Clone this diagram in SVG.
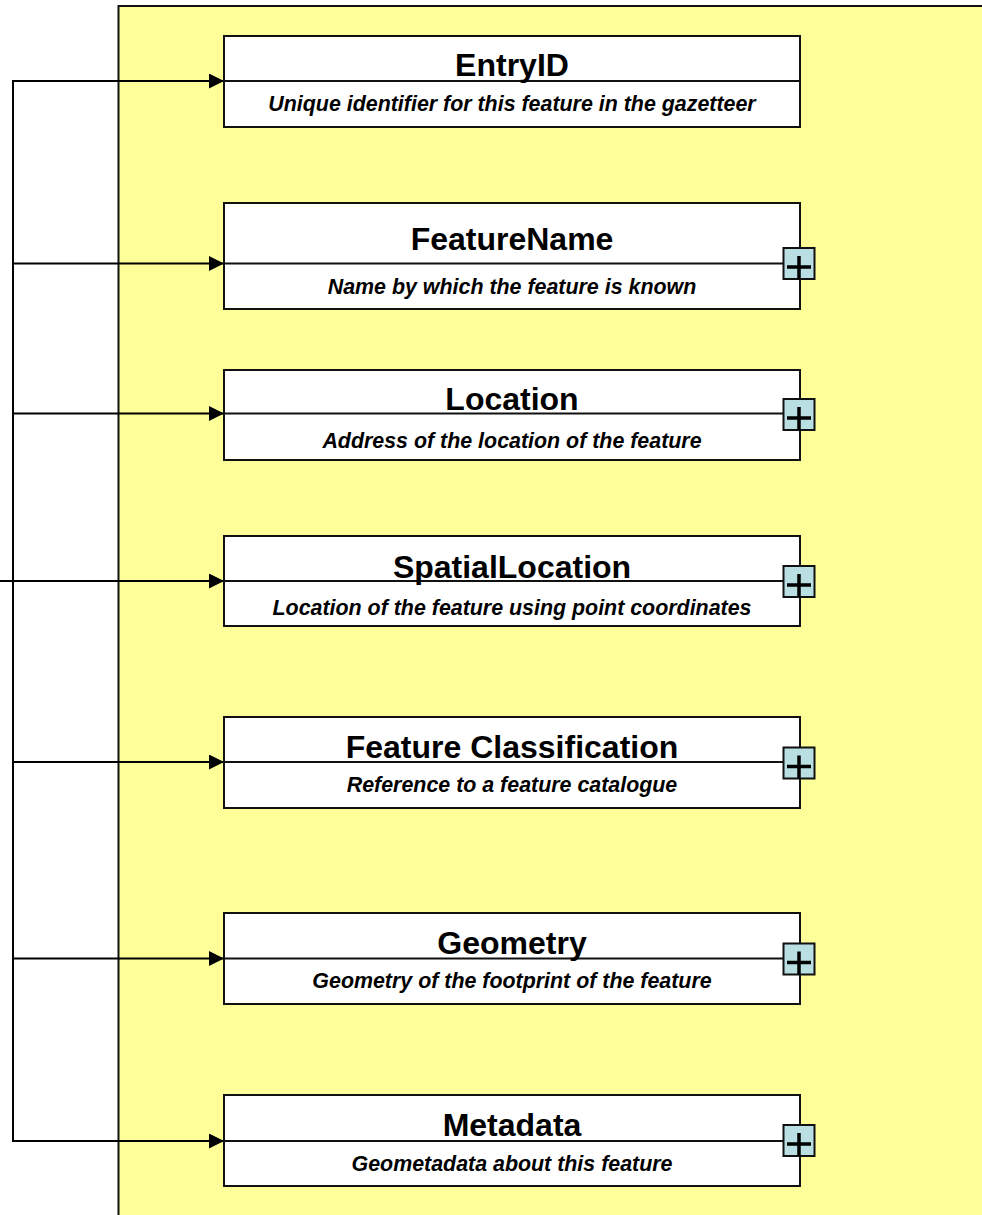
<svg xmlns="http://www.w3.org/2000/svg" width="982" height="1215" viewBox="0 0 982 1215">
<defs>
<marker id="arr" markerWidth="15" markerHeight="15" refX="15" refY="7.5" orient="auto" markerUnits="userSpaceOnUse">
<path d="M0,0 L15,7.5 L0,15 Z" fill="#000"/>
</marker>
<style>
.box{fill:#fff;stroke:#111;stroke-width:2}
.div{stroke:#111;stroke-width:2}
.t{font-family:"Liberation Sans",Arial,sans-serif;font-weight:bold;font-size:32px;text-anchor:middle;fill:#000}
.s{font-family:"Liberation Sans",Arial,sans-serif;font-weight:bold;font-style:italic;font-size:21.4px;text-anchor:middle;fill:#000}
.pb{fill:#b9dfe3;stroke:#111;stroke-width:2}
.px{stroke:#000;stroke-width:3.5;fill:none}
.c{stroke:#000;stroke-width:2;fill:none}
</style>
</defs>
<rect width="982" height="1215" fill="#fff"/>
<g id="panel">
<rect x="118.5" y="6" width="880" height="1220" fill="#ffff99" stroke="#111" stroke-width="2"/>
</g>
<g id="connectors">
<path class="c" d="M13,81 V1141"/>
<path class="c" d="M12,81 H224" marker-end="url(#arr)"/>
<path class="c" d="M13,263.5 H224" marker-end="url(#arr)"/>
<path class="c" d="M13,413.5 H224" marker-end="url(#arr)"/>
<path class="c" d="M0,581 H224" marker-end="url(#arr)"/>
<path class="c" d="M13,762 H224" marker-end="url(#arr)"/>
<path class="c" d="M13,958.5 H224" marker-end="url(#arr)"/>
<path class="c" d="M12,1141 H224" marker-end="url(#arr)"/>
</g>
<g id="entryid">
<rect class="box" x="224" y="36" width="576" height="91"/>
<line class="div" x1="224" y1="81" x2="800" y2="81"/>
<text class="t" x="512" y="76">EntryID</text>
<text class="s" x="512" y="111">Unique identifier for this feature in the gazetteer</text>
</g>
<g id="featurename">
<rect class="box" x="224" y="203" width="576" height="106"/>
<line class="div" x1="224" y1="263.5" x2="800" y2="263.5"/>
<text class="t" x="512" y="250">FeatureName</text>
<text class="s" x="512" y="294">Name by which the feature is known</text>
<rect class="pb" x="783.5" y="248" width="31" height="31"/>
<path class="px" d="M787,267 H811 M799,256 V279"/>
</g>
<g id="location">
<rect class="box" x="224" y="370" width="576" height="90"/>
<line class="div" x1="224" y1="413.5" x2="800" y2="413.5"/>
<text class="t" x="512" y="410">Location</text>
<text class="s" x="512" y="448">Address of the location of the feature</text>
<rect class="pb" x="783.5" y="399" width="31" height="31"/>
<path class="px" d="M787,418 H811 M799,407 V430"/>
</g>
<g id="spatiallocation">
<rect class="box" x="224" y="536" width="576" height="90"/>
<line class="div" x1="224" y1="581" x2="800" y2="581"/>
<text class="t" x="512" y="578">SpatialLocation</text>
<text class="s" x="512" y="615">Location of the feature using point coordinates</text>
<rect class="pb" x="783.5" y="566" width="31" height="31"/>
<path class="px" d="M787,585 H811 M799,574 V597"/>
</g>
<g id="featureclassification">
<rect class="box" x="224" y="717" width="576" height="91"/>
<line class="div" x1="224" y1="762" x2="800" y2="762"/>
<text class="t" x="512" y="758">Feature Classification</text>
<text class="s" x="512" y="792">Reference to a feature catalogue</text>
<rect class="pb" x="783.5" y="747.5" width="31" height="31"/>
<path class="px" d="M787,766.5 H811 M799,755.5 V778.5"/>
</g>
<g id="geometry">
<rect class="box" x="224" y="913" width="576" height="91"/>
<line class="div" x1="224" y1="958.5" x2="800" y2="958.5"/>
<text class="t" x="512" y="954">Geometry</text>
<text class="s" x="512" y="988">Geometry of the footprint of the feature</text>
<rect class="pb" x="783.5" y="943.5" width="31" height="31"/>
<path class="px" d="M787,962.5 H811 M799,951.5 V974.5"/>
</g>
<g id="metadata">
<rect class="box" x="224" y="1095" width="576" height="91"/>
<line class="div" x1="224" y1="1141" x2="800" y2="1141"/>
<text class="t" x="512" y="1136">Metadata</text>
<text class="s" x="512" y="1171">Geometadata about this feature</text>
<rect class="pb" x="783.5" y="1125" width="31" height="31"/>
<path class="px" d="M787,1144 H811 M799,1133 V1156"/>
</g>
</svg>
